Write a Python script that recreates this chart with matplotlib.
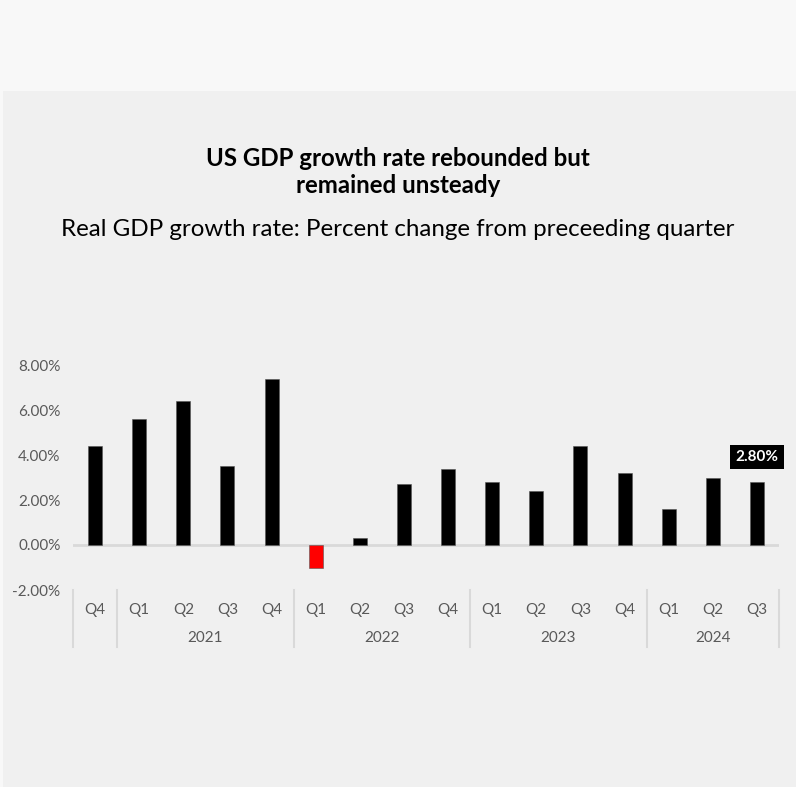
import matplotlib.pyplot as plt
from matplotlib.patches import Rectangle

# quarterly real GDP growth, percent change from preceding quarter
quarters = ['Q4', 'Q1', 'Q2', 'Q3', 'Q4', 'Q1', 'Q2', 'Q3', 'Q4',
            'Q1', 'Q2', 'Q3', 'Q4', 'Q1', 'Q2', 'Q3']
growth = [4.4, 5.6, 6.4, 3.5, 7.4, -1.0, 0.3, 2.7, 3.4,
          2.8, 2.4, 4.4, 3.2, 1.6, 3.0, 2.8]
years = ['', '2021', '2022', '2023', '2024']
year_spans = [(0, 0), (1, 4), (5, 8), (9, 12), (13, 15)]
yticks = [-2, 0, 2, 4, 6, 8]

plt.rcParams['font.family'] = ['Lato', 'DejaVu Sans']

W, H = 796, 787
fig = plt.figure(figsize=(W / 100, H / 100), dpi=100)
fig.patch.set_facecolor('#f8f8f8')
fig.add_artist(Rectangle((3 / W, 0), 1, 1 - 91 / H, transform=fig.transFigure,
                         facecolor='#f0f0f0', edgecolor='none', zorder=0))

fig.text(0.5, 1 - 172 / H, 'US GDP growth rate rebounded but\nremained unsteady',
         ha='center', va='center', fontsize=17.3, fontweight='bold',
         color='black', linespacing=1.22)
fig.text(0.5, 1 - 229 / H, 'Real GDP growth rate: Percent change from preceeding quarter',
         ha='center', va='center', fontsize=17.4, color='black')

ax = fig.add_axes([73 / W, 1 - 590 / H, 706 / W, 225 / H])
ax.set_facecolor('none')

x = list(range(len(growth)))
colors = ['#ff0000' if v < 0 else 'black' for v in growth]
ax.bar(x, growth, width=0.32, color=colors, edgecolor='#555555', linewidth=0.4, zorder=3)
ax.axhline(0, color='#d9d9d9', linewidth=2, zorder=2)

ax.set_xlim(-0.5, len(growth) - 0.5)
ax.set_ylim(-2, 8)
ax.set_yticks(yticks)
ax.set_yticklabels([f'{t:.2f}%' for t in yticks], fontsize=11, color='#595959')
ax.tick_params(axis='y', length=0, pad=9)
ax.set_xticks([])
for s in ax.spines.values():
    s.set_visible(False)

# two-level category axis: quarters, then years with separators
tr = ax.get_xaxis_transform()
for i, q in enumerate(quarters):
    ax.text(i, -0.089, q, transform=tr, ha='center', va='center',
            fontsize=11, color='#595959', clip_on=False)
for yr, (a, b) in zip(years, year_spans):
    ax.text((a + b) / 2, -0.213, yr, transform=tr, ha='center', va='center',
            fontsize=11, color='#595959', clip_on=False)
seps = [year_spans[0][0] - 0.5] + [b + 0.5 for _, b in year_spans]
for sx in seps:
    ax.plot([sx, sx], [0, -0.253], transform=tr, color='#d9d9d9',
            linewidth=1.5, clip_on=False)

# callout on the latest quarter
last = len(growth) - 1
ax.annotate(f'{growth[last]:.2f}%', xy=(last, growth[last]), xytext=(0, 18),
            textcoords='offset points', ha='center', va='center',
            fontsize=11, fontweight='bold', color='white',
            bbox=dict(boxstyle='square,pad=0.35', facecolor='black', edgecolor='none'))

fig.savefig('out.png', dpi=100, facecolor=fig.get_facecolor())
